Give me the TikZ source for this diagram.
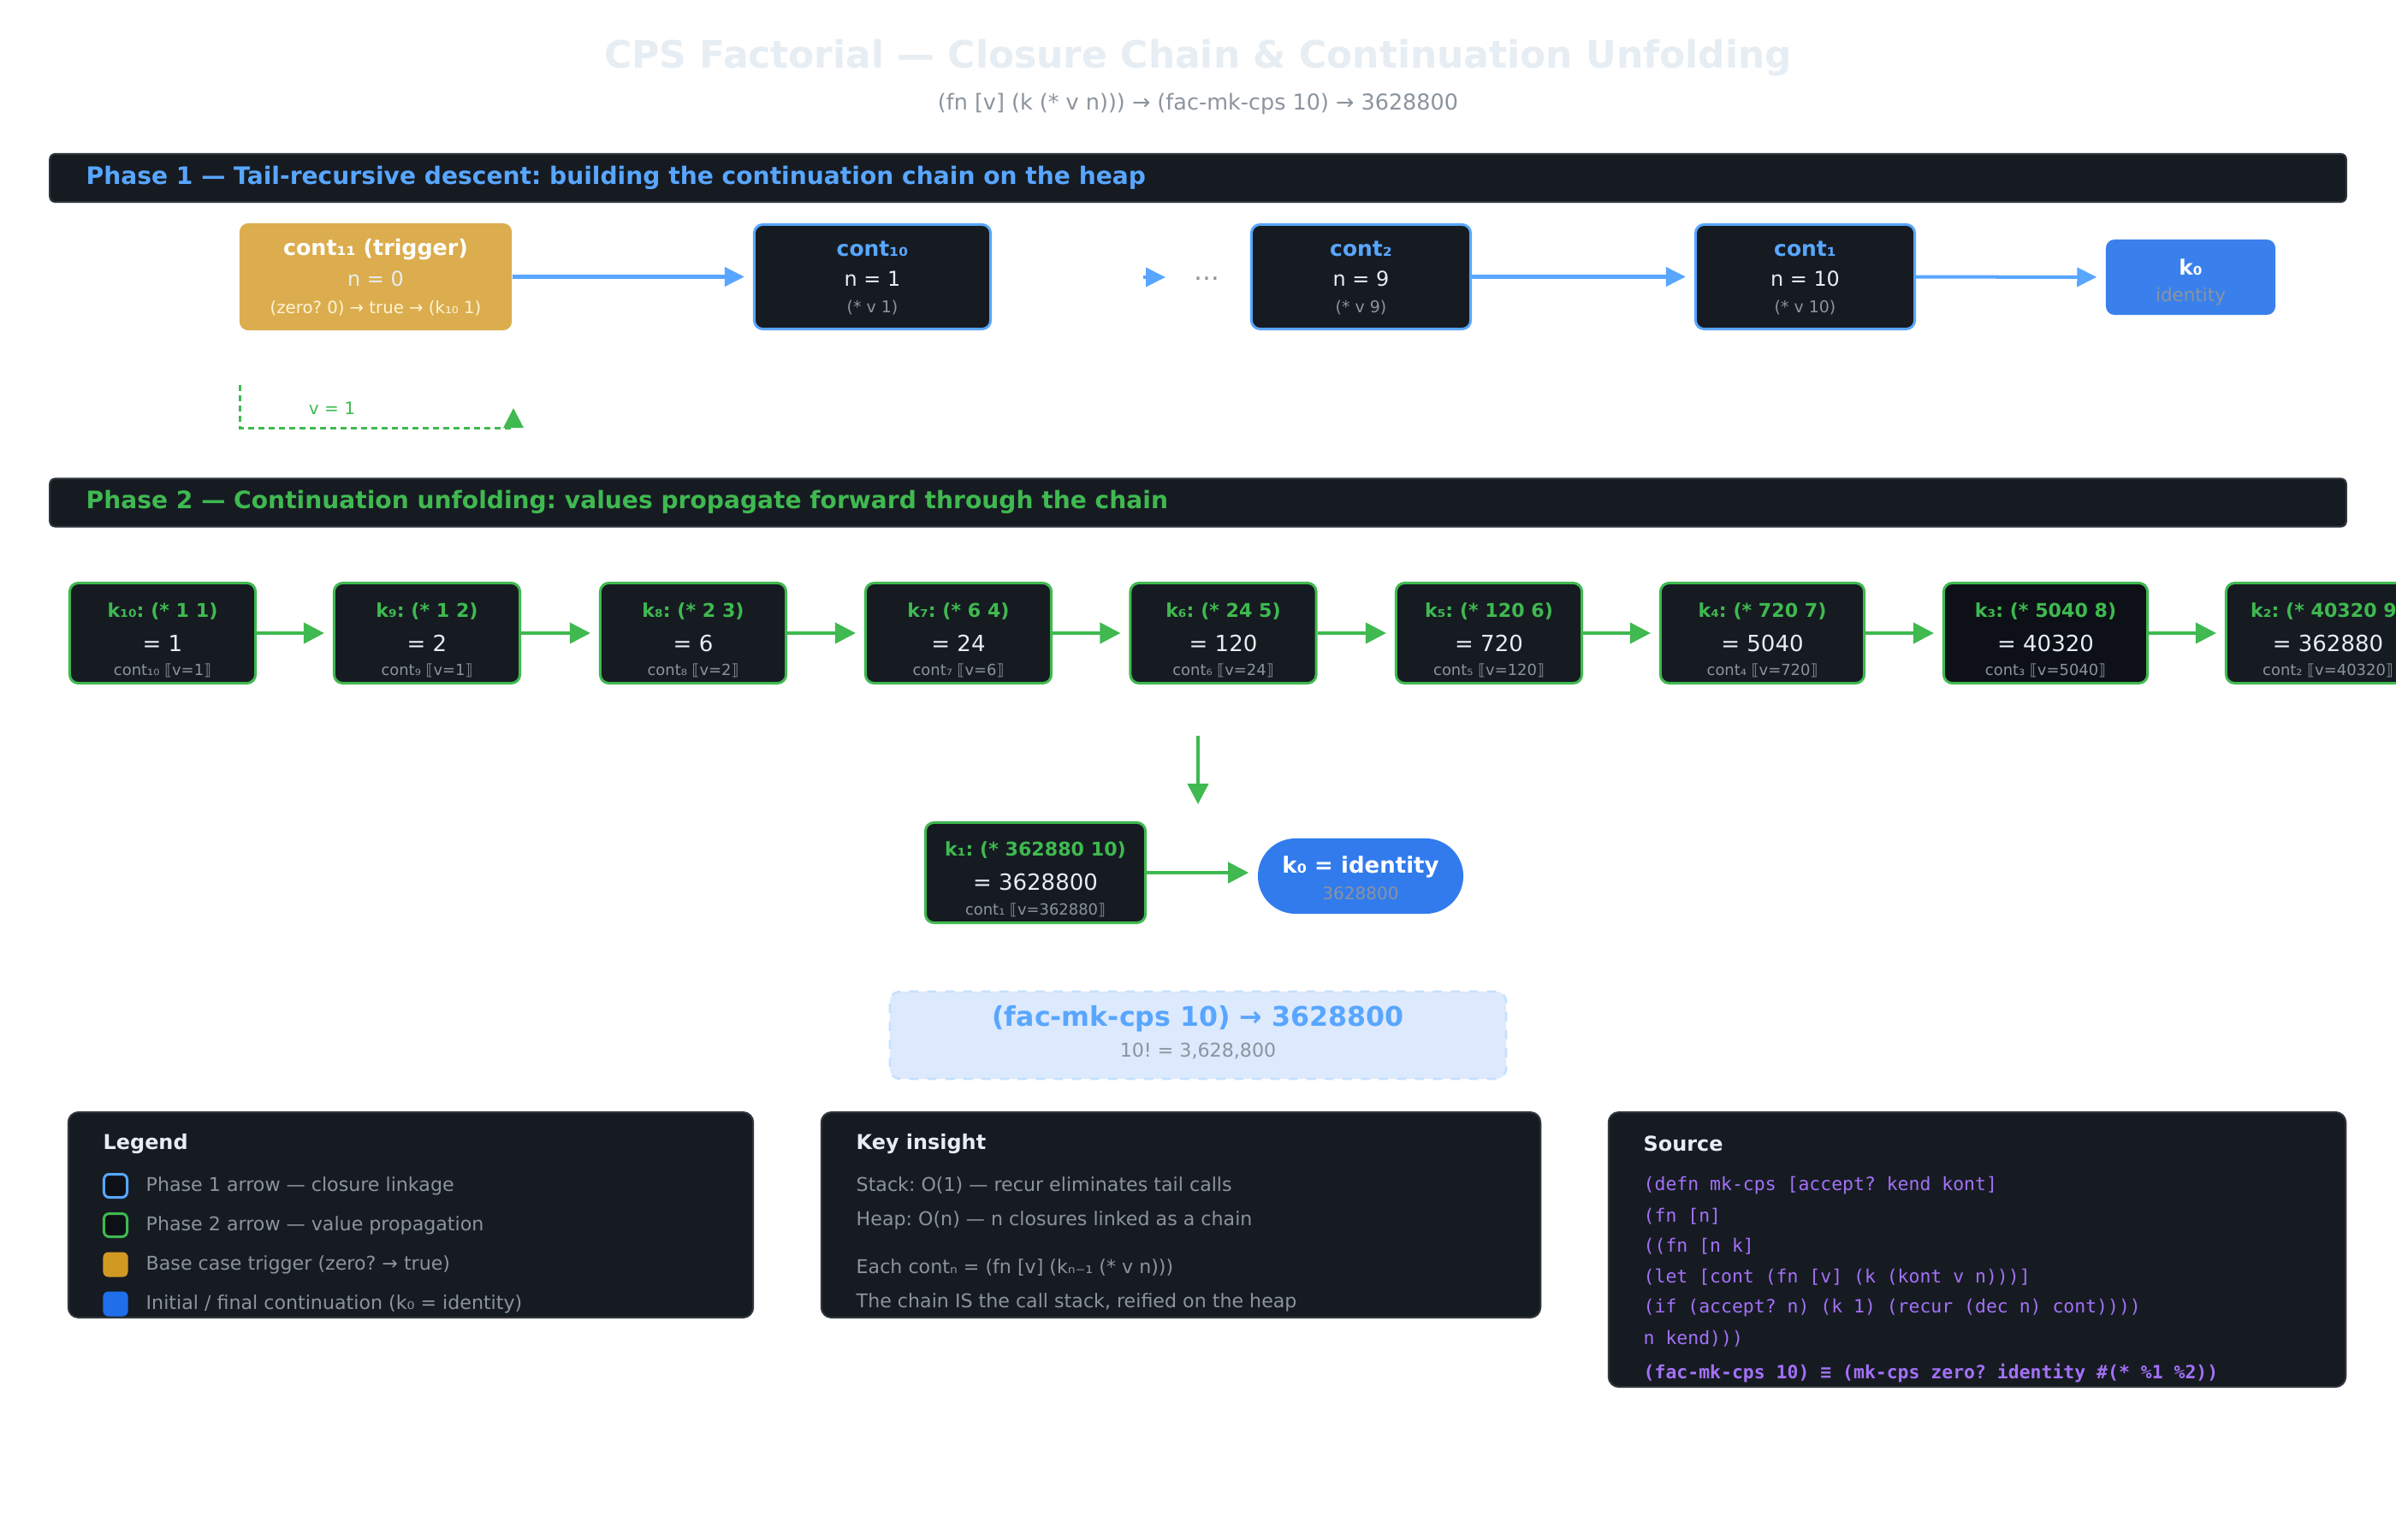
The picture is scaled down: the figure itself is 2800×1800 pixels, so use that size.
\documentclass[tikz,border=0pt]{standalone}
\usepackage{fontspec}
\setmainfont{DejaVu Sans}
\setmonofont{DejaVu Sans Mono}
\usetikzlibrary{arrows.meta}
\frenchspacing

\definecolor{bgdark}{HTML}{161B22}
\definecolor{bgdarker}{HTML}{0D1117}
\definecolor{edgegray}{HTML}{30363D}
\definecolor{ghblue}{HTML}{58A6FF}
\definecolor{ghgreen}{HTML}{3FB950}
\definecolor{ghgray}{HTML}{8B949E}
\definecolor{ghlight}{HTML}{E6EDF3}
\definecolor{ghyellow}{HTML}{D29922}
\definecolor{ghdeep}{HTML}{1F6FEB}
\definecolor{ghpurple}{HTML}{A371F7}
\definecolor{cream}{HTML}{FFF4D6}

\newcommand{\fsz}[1]{\fontsize{#1}{#1}\selectfont}

\begin{document}
\begin{tikzpicture}[x=0.01cm, y=-0.01cm,
		every node/.style={inner sep=0pt},
		hdrbar/.style={fill=bgdark, draw=edgegray, line width=0.2mm, rounded corners=0.6mm, minimum width=26.82cm, minimum height=0.56cm},
		p1box/.style={fill=bgdark, draw=ghblue, line width=0.3mm, rounded corners=1mm, minimum height=1.22cm},
		p2box/.style={draw=ghgreen, line width=0.3mm, rounded corners=1mm, minimum height=1.17cm},
		p1arrow/.style={draw=ghblue, line width=0.4mm, -{Triangle[length=2.3mm,width=2.2mm]}, shorten >=1mm},
		p2arrow/.style={draw=ghgreen, line width=0.4mm, -{Triangle[length=2.4mm,width=2.4mm]}, shorten >=1mm},
		retarrow/.style={draw=ghgreen, line width=0.3mm, dash pattern=on 0.7mm off 0.5mm, -{Triangle[length=2.3mm,width=2.3mm]}},
		panel/.style={fill=bgdark, draw=edgegray, line width=0.2mm, rounded corners=1.2mm},
		swblue/.style={fill=bgdarker, draw=ghblue, line width=0.3mm, rounded corners=0.6mm, minimum size=0.27cm},
		swgreen/.style={fill=bgdarker, draw=ghgreen, line width=0.3mm, rounded corners=0.6mm, minimum size=0.27cm},
		swyellow/.style={fill=ghyellow, rounded corners=0.6mm, minimum size=0.29cm},
		swdeep/.style={fill=ghdeep, rounded corners=0.6mm, minimum size=0.29cm}]
	\fill[white] (0,0) rectangle (2800,1800);
	\useasboundingbox (0,0) rectangle (2800,1800);

	% title
	\node[text=ghlight, font=\fsz{12.5pt}\bfseries] (title) at (1400,68) {CPS Factorial — Closure Chain \& Continuation Unfolding};
	\node[text=ghgray, font=\fsz{7.25pt}] (subtitle) at (1400,121) {(fn [v] (k (* v n))) → (fac-mk-cps 10) → 3628800};

	% phase 1
	\node[hdrbar] (hdr1) at (1400,208) {};
	\node[anchor=west, text=ghblue, font=\fsz{8pt}\bfseries] (hdr1txt) at (100,208) {Phase 1 — Tail-recursive descent: building the continuation chain on the heap};

	\node[fill=ghyellow!80!white, rounded corners=1mm, minimum width=3.18cm, minimum height=1.25cm] (c11) at (439,323.5) {};
	\node[text=white, font=\fsz{7.2pt}\bfseries] (c11-t) at (439,292) {cont₁₁ (trigger)};
	\node[text=ghlight, font=\fsz{6.8pt}] (c11-n) at (439,326) {n = 0};
	\node[text=cream, font=\fsz{5.6pt}] (c11-e) at (439,360) {(zero? 0) → true → (k₁₀ 1)};

	\foreach \nm/\cx/\bw/\sub/\n in {c10/1019.5/2.76/₁₀/1, c2/1590.5/2.56/₂/9, c1/2109.5/2.56/₁/10}{
		\node[p1box, minimum width=\bw cm] (\nm) at (\cx,323.5) {};
		\node[text=ghblue, font=\fsz{7.1pt}\bfseries] (\nm-t) at (\cx,291) {cont\sub};
		\node[text=ghlight, font=\fsz{6.8pt}] (\nm-n) at (\cx,326) {n = \n};
		\node[text=ghgray, font=\fsz{5.4pt}] (\nm-e) at (\cx,360) {(* v \n)};
	}

	\node[fill=ghdeep!88!white, rounded corners=1mm, minimum width=1.98cm, minimum height=0.88cm] (k0a) at (2560,324) {};
	\node[text=white, font=\fsz{7pt}\bfseries] (k0a-t) at (2560,312) {k₀};
	\node[text=ghgray, font=\fsz{6.1pt}] (k0a-e) at (2560,347) {identity};

	\draw[p1arrow] (c11) -- (c10);
	\draw[p1arrow] (c2) -- (c1);
	\draw[p1arrow] (c1) -- (k0a);

	% the elided middle of the chain
	\coordinate (dotsA) at (1336,324);
	\coordinate (dotsB) at (1362,324);
	\draw[p1arrow, shorten >=0pt] (dotsA) -- (dotsB);
	\node[text=ghgray, font=\fsz{8.5pt}] (dots) at (1410,326) {…};

	% base case hands v = 1 back
	\coordinate (vtop) at (280,450);
	\coordinate (vcorner) at (600,500);
	\coordinate (vtip) at (600,477);
	\draw[retarrow] (vtop) |- (vcorner) -- (vtip);
	\node[text=ghgreen, font=\fsz{5.7pt}] (vlbl) at (388,477) {v = 1};

	% phase 2
	\node[hdrbar] (hdr2) at (1400,587.5) {};
	\node[anchor=west, text=ghgreen, font=\fsz{8pt}\bfseries] (hdr2txt) at (100,587) {Phase 2 — Continuation unfolding: values propagate forward through the chain};

	\foreach \i/\sub/\cx/\bw/\ka/\kb/\val/\vin/\fl in {
			10/₁₀/190/2.17/1/1/1/1/bgdark,
			9/₉/499/2.17/1/2/2/1/bgdark,
			8/₈/810/2.17/2/3/6/2/bgdark,
			7/₇/1120/2.17/6/4/24/6/bgdark,
			6/₆/1429.5/2.17/24/5/120/24/bgdark,
			5/₅/1740/2.17/120/6/720/120/bgdark,
			4/₄/2059.5/2.38/720/7/5040/720/bgdark,
			3/₃/2390.5/2.38/5040/8/40320/5040/bgdarker,
			2/₂/2720.5/2.38/40320/9/362880/40320/bgdark}{
		\node[p2box, fill=\fl, minimum width=\bw cm] (k\i) at (\cx,740) {};
		\node[text=ghgreen, font=\fsz{6.3pt}\bfseries] (k\i-t) at (\cx,715) {k\sub: (* \ka{} \kb)};
		\node[text=ghlight, font=\fsz{7.4pt}] (k\i-v) at (\cx,752) {= \val};
		\node[text=ghgray, font=\fsz{5.1pt}] (k\i-c) at (\cx,784) {cont\sub{} ⟦v=\vin⟧};
	}
	\foreach \p/\q in {10/9, 9/8, 8/7, 7/6, 6/5, 5/4, 4/3, 3/2}{
		\draw[p2arrow] (k\p) -- (k\q);
	}

	\coordinate (downA) at (1400,860);
	\coordinate (downB) at (1400,940);
	\draw[p2arrow, shorten >=0pt] (downA) -- (downB);

	\node[p2box, fill=bgdark, minimum width=2.57cm] (k1) at (1210,1020) {};
	\node[text=ghgreen, font=\fsz{6.3pt}\bfseries] (k1-t) at (1210,994) {k₁: (* 362880 10)};
	\node[text=ghlight, font=\fsz{7.4pt}] (k1-v) at (1210,1031) {= 3628800};
	\node[text=ghgray, font=\fsz{5.1pt}] (k1-c) at (1210,1064) {cont₁ ⟦v=362880⟧};

	\node[fill=ghdeep!92!white, rounded corners=4.4mm, minimum width=2.4cm, minimum height=0.88cm] (k0b) at (1590,1024) {};
	\node[text=white, font=\fsz{7.4pt}\bfseries] (k0b-t) at (1590,1013) {k₀ = identity};
	\node[text=ghgray, font=\fsz{5.7pt}] (k0b-v) at (1590,1044) {3628800};
	\draw[p2arrow] (k1.east) -- (k1.east -| k0b.west);

	% result
	\node[fill=ghdeep!15!white, draw=ghblue!35!white, dashed, line width=0.25mm, rounded corners=1.2mm, minimum width=7.2cm, minimum height=1.02cm] (result) at (1400,1210) {};
	\node[text=ghblue, font=\fsz{9pt}\bfseries] (result-t) at (1400,1191) {(fac-mk-cps 10) → 3628800};
	\node[text=ghgray, font=\fsz{6.3pt}] (result-v) at (1400,1229) {10! = 3,628,800};

	% legend
	\node[panel, minimum width=8cm, minimum height=2.4cm] (legend) at (480,1420) {};
	\node[anchor=west, text=ghlight, font=\fsz{6.8pt}\bfseries] (legend-h) at (120,1337) {Legend};
	\foreach \y/\sty/\txt [count=\r] in {1386/swblue/Phase 1 arrow — closure linkage,
			1432/swgreen/Phase 2 arrow — value propagation,
			1478/swyellow/Base case trigger (zero? → true),
			1524/swdeep/{Initial / final continuation (k₀ = identity)}}{
		\node[\sty] (sw\r) at (135,\y) {};
		\node[anchor=west, text=ghgray, font=\fsz{6.3pt}] (lg\r) at (170,\y) {\txt};
	}

	% key insight
	\node[panel, minimum width=8.4cm, minimum height=2.4cm] (insight) at (1380,1420) {};
	\node[anchor=west, text=ghlight, font=\fsz{6.8pt}\bfseries] (insight-h) at (1000,1337) {Key insight};
	\foreach \y/\txt [count=\r] in {1386/Stack: O(1) — recur eliminates tail calls,
			1426/Heap: O(n) — n closures linked as a chain,
			1482/Each contₙ = (fn [v] (kₙ₋₁ (* v n))),
			1522/{The chain IS the call stack, reified on the heap}}{
		\node[anchor=west, text=ghgray, font=\fsz{6.3pt}] (ins\r) at (1000,\y) {\txt};
	}

	% source
	\node[panel, minimum width=8.61cm, minimum height=3.21cm] (source) at (2310.5,1460.5) {};
	\node[anchor=west, text=ghlight, font=\fsz{6.8pt}\bfseries] (source-h) at (1920,1337) {Source};
	\foreach \y/\txt [count=\r] in {1386/{(defn mk-cps [accept? kend kont]},
			1422/{(fn [n]},
			1457/{((fn [n k]},
			1493/{(let [cont (fn [v] (k (kont v n)))]},
			1529/{(if (accept? n) (k 1) (recur (dec n) cont))))},
			1565/{n kend)))}}{
		\node[anchor=west, text=ghpurple, font=\fsz{6.1pt}\ttfamily] (src\r) at (1920,\y) {\txt};
	}
	\node[anchor=west, text=ghpurple, font=\fsz{6.1pt}\ttfamily\bfseries] (src7) at (1920,1605) {(fac-mk-cps 10) ≡ (mk-cps zero? identity \#(* \%1 \%2))};
\end{tikzpicture}
\end{document}
